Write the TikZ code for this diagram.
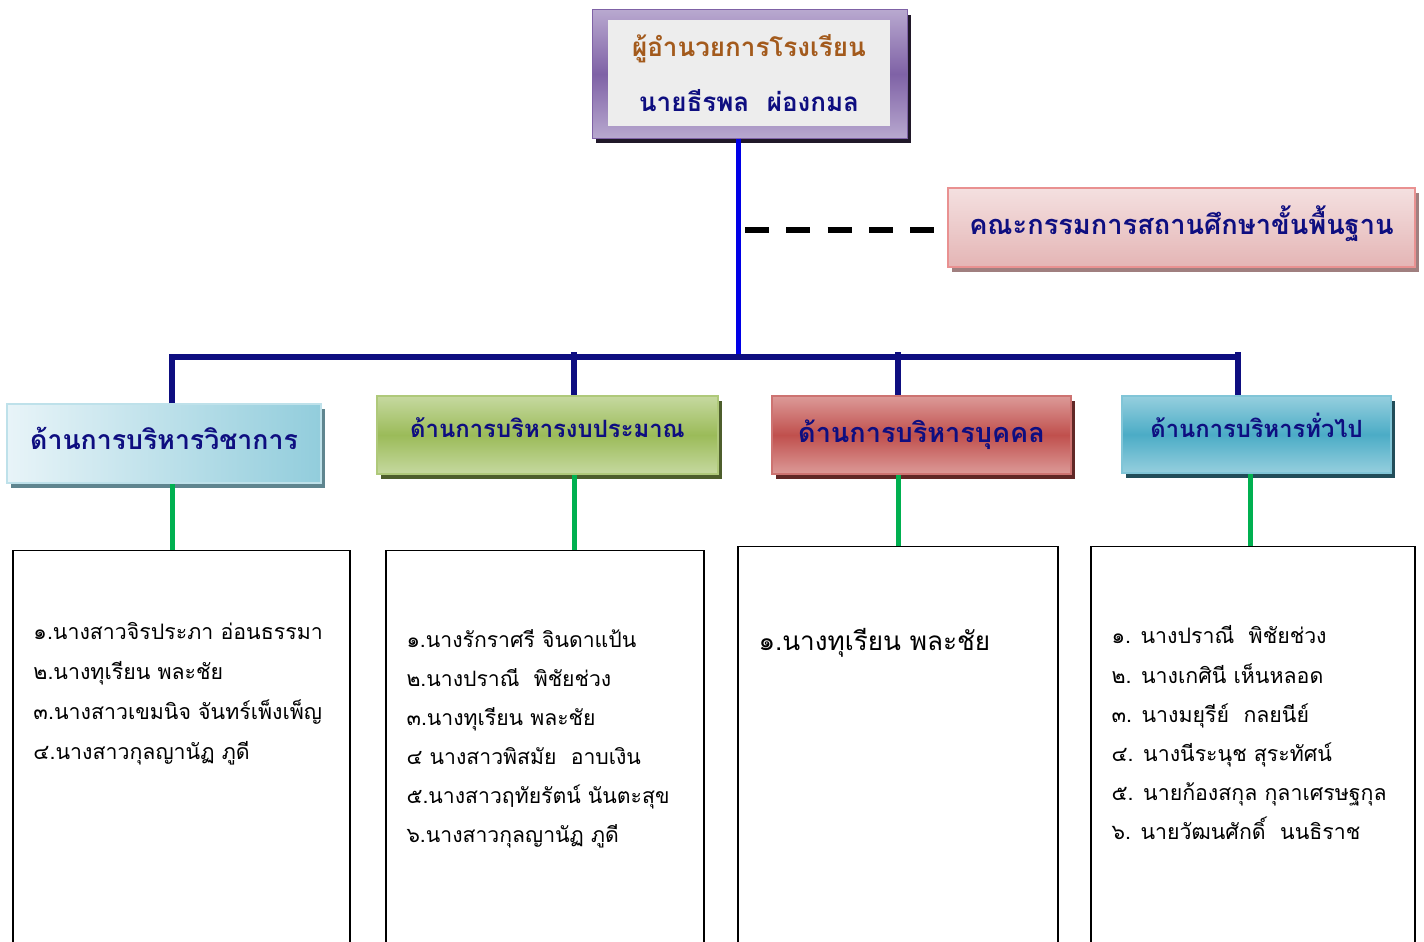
\documentclass[tikz,border=0pt]{standalone}
\usepackage{fontspec}
\setmainfont[Script=Thai]{Loma}
\usetikzlibrary{shadows}

\definecolor{navy}{HTML}{0E0E80}
\definecolor{brown}{HTML}{A35A1C}
\definecolor{trunkblue}{HTML}{0000E6}
\definecolor{bargreen}{HTML}{00B050}
\definecolor{purpleL}{HTML}{B8A8CF}
\definecolor{purpleD}{HTML}{7F62A6}
\definecolor{pinkL}{HTML}{F4E0E0}
\definecolor{pinkD}{HTML}{E4B5B5}
\definecolor{aquaL}{HTML}{E8F4F8}
\definecolor{aquaD}{HTML}{92CDDC}
\definecolor{greenL}{HTML}{C6D9A0}
\definecolor{greenD}{HTML}{9BBB59}
\definecolor{redL}{HTML}{DC9A98}
\definecolor{redD}{HTML}{C0504D}
\definecolor{tealL}{HTML}{96CFDE}
\definecolor{tealD}{HTML}{4BACC6}

\begin{document}
\begin{tikzpicture}[x=0.75pt, y=-0.75pt, line width=0.75pt,
    head/.style={draw, line width=1.5pt, inner sep=0pt, text=navy, text depth=8pt},
    shade/.style={drop shadow={shadow xshift=3pt, shadow yshift=-3.5pt, opacity=1, fill=#1}},
    listbox/.style={draw, line width=1.1pt, fill=white, anchor=north, minimum height=315pt},
    names/.style={anchor=north west, align=left, inner sep=0pt},
    trunk/.style={line width=3.75pt, draw=trunkblue},
    bar/.style={line width=4.5pt, draw=navy},
    link/.style={line width=3.75pt, draw=bargreen},
    dashline/.style={line width=4.5pt, dash pattern=on 18pt off 13pt}]
    \useasboundingbox (0,0) rectangle (1424,942);
    \clip (0,0) rectangle (1424,942);

    % director
    \node(dir)[draw=purpleD, top color=purpleL, bottom color=purpleL, middle color=purpleD,
        shade={black!75!purpleD}, minimum width=236.25pt, minimum height=96pt] at (749.5,74) {};
    \node(dirbox)[fill=black!7, minimum width=211.5pt, minimum height=78.75pt, align=center,
        font=\fontsize{19.5}{41}\selectfont\bfseries] at (749,73)
        {\textcolor{brown}{ผู้อำนวยการโรงเรียน}\\ \textcolor{navy}{นายธีรพล\ \ ผ่องกมล}};

    % committee
    \node(com)[head, draw=pinkD!80!red, top color=pinkL, bottom color=pinkD, shade=black!30!pinkD,
        minimum width=350.25pt, minimum height=59.25pt, text height=18pt,
        font=\fontsize{20.4}{24}\selectfont\bfseries]
        at (1181.5,227.5) {คณะกรรมการสถานศึกษาขั้นพื้นฐาน};

    % four sections
    \node(b1)[head, draw=aquaD!60, left color=aquaL, right color=aquaD, shade={black!35!aquaD},
        minimum width=235.5pt, minimum height=59.25pt, text height=17.5pt,
        font=\fontsize{20}{24}\selectfont\bfseries] at (164,443.5) {ด้านการบริหารวิชาการ};
    \node(b2)[head, draw=greenD!80!white, top color=greenL, bottom color=greenL, middle color=greenD,
        shade={black!50!greenD}, minimum width=255.75pt, minimum height=58.5pt, text height=12pt,
        font=\fontsize{17.9}{24}\selectfont\bfseries] at (547.5,435) {ด้านการบริหารงบประมาณ};
    \node(b3)[head, draw=redD!80!white, top color=redL, bottom color=redL, middle color=redD,
        shade={black!50!redD}, minimum width=224.25pt, minimum height=58.5pt, text height=19pt,
        font=\fontsize{20.3}{24}\selectfont\bfseries] at (921.5,435) {ด้านการบริหารบุคคล};
    \node(b4)[head, draw=tealD!70!white, top color=tealL, bottom color=tealL, middle color=tealD,
        shade={black!55!tealD}, minimum width=201.75pt, minimum height=57.75pt, text height=12pt,
        font=\fontsize{17.8}{24}\selectfont\bfseries] at (1256.5,434.5) {ด้านการบริหารทั่วไป};

    % staff lists
    \node(l1)[listbox, minimum width=252.75pt] at (181.5,550) {};
    \node(l2)[listbox, minimum width=238.5pt] at (545,550) {};
    \node(l3)[listbox, minimum width=240pt] at (898,546) {};
    \node(l4)[listbox, minimum width=243pt] at (1253,546) {};

    \node(n1)[names, font=\fontsize{16}{30}\selectfont] at (33,611)
        {\strut ๑.นางสาวจิรประภา อ่อนธรรมา\\ \strut ๒.นางทุเรียน พละชัย\\
         \strut ๓.นางสาวเขมนิจ จันทร์เพ็งเพ็ญ\\ \strut ๔.นางสาวกุลญานัฏ ภูดี};
    \node(n2)[names, font=\fontsize{15.9}{29.25}\selectfont] at (406,620)
        {\strut ๑.นางรักราศรี จินดาแป้น\\ \strut ๒.นางปราณี\ \ พิชัยช่วง\\
         \strut ๓.นางทุเรียน พละชัย\\ \strut ๔ นางสาวพิสมัย\ \ อาบเงิน\\
         \strut ๕.นางสาวฤทัยรัตน์ นันตะสุข\\ \strut ๖.นางสาวกุลญานัฏ ภูดี};
    \node(n3)[names, font=\fontsize{19.6}{34}\selectfont] at (758,618)
        {\strut ๑.นางทุเรียน พละชัย};
    \node(n4)[names, font=\fontsize{16}{29.4}\selectfont] at (1111,616)
        {\strut ๑. นางปราณี\ \ พิชัยช่วง\\ \strut ๒. นางเกศินี เห็นหลอด\\
         \strut ๓. นางมยุรีย์\ \ กลยนีย์\\ \strut ๔. นางนีระนุช สุระทัศน์\\
         \strut ๕. นายก้องสกุล กุลาเศรษฐกุล\\ \strut ๖. นายวัฒนศักดิ์\ \ นนธิราช};

    % tree
    \coordinate(jn) at (738,357);
    \coordinate(t1) at (172,357);
    \coordinate(t2) at (574,352);
    \coordinate(t3) at (898,352);
    \coordinate(t4) at (1238,352);
    \coordinate(ds) at (745,230);
    \draw[trunk] (jn |- dir.south) -- (jn);
    \draw[dashline] (ds) -- (ds -| com.west);
    \draw[bar] (t1 |- b1.north) -- (t1) -- (t1 -| t4);
    \draw[bar] (t2) -- (t2 |- b2.north);
    \draw[bar] (t3) -- (t3 |- b3.north);
    \draw[bar] (t4) -- (t4 |- b4.north);

    \coordinate(g1) at (172,0);
    \coordinate(g2) at (574,0);
    \coordinate(g3) at (898,0);
    \coordinate(g4) at (1250,0);
    \draw[link] (g1 |- b1.south) -- (g1 |- l1.north);
    \draw[link] (g2 |- b2.south) -- (g2 |- l2.north);
    \draw[link] (g3 |- b3.south) -- (g3 |- l3.north);
    \draw[link] (g4 |- b4.south) -- (g4 |- l4.north);
\end{tikzpicture}
\end{document}
